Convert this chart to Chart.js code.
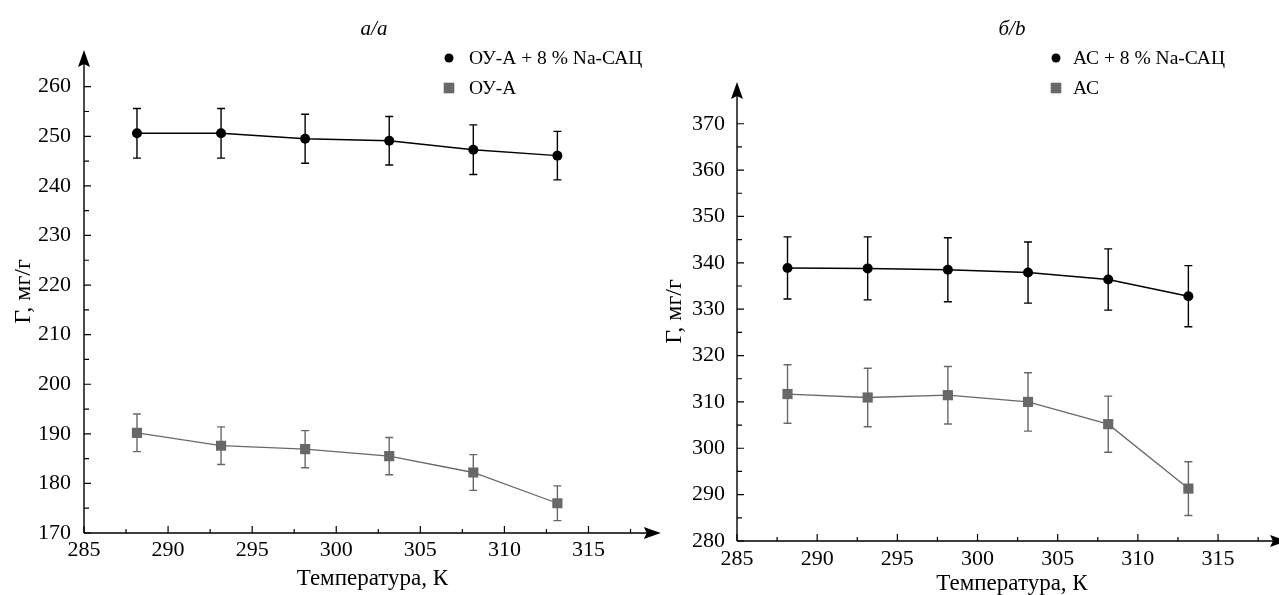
<!DOCTYPE html>
<html>
<head>
<meta charset="utf-8">
<script src="https://cdn.jsdelivr.net/npm/chart.js@4.4.1/dist/chart.umd.min.js"></script>
<style>
  html, body { margin:0; padding:0; background:#fff; overflow:hidden; width:1279px; height:595px; position:relative; }
  #wrapA { position:absolute; left:0; top:0; width:668px; height:595px; }
  #wrapB { position:absolute; left:655px; top:0; width:645px; height:595px; }
  canvas { display:block; }
</style>
</head>
<body>
<div id="wrapA"><canvas id="chartA" width="668" height="595"></canvas></div>
<div id="wrapB"><canvas id="chartB" width="645" height="595"></canvas></div>
<script>
// ---------- data ----------
const temperatures = [288.15, 293.15, 298.15, 303.15, 308.15, 313.15];

const seriesA1Label = 'ОУ-А + 8 % Na-САЦ';
const seriesA1 = [250.6, 250.6, 249.5, 249.1, 247.3, 246.1];
const seriesA1Err = [5.0, 5.0, 4.95, 4.9, 5.0, 4.9];
const seriesA2Label = 'ОУ-А';
const seriesA2 = [190.2, 187.6, 186.9, 185.5, 182.2, 176.0];
const seriesA2Err = [3.8, 3.8, 3.75, 3.75, 3.6, 3.5];

const seriesB1Label = 'АС + 8 % Na-САЦ';
const seriesB1 = [338.9, 338.8, 338.5, 337.9, 336.4, 332.8];
const seriesB1Err = [6.7, 6.8, 6.9, 6.6, 6.6, 6.6];
const seriesB2Label = 'АС';
const seriesB2 = [311.7, 310.95, 311.45, 310.0, 305.2, 291.3];
const seriesB2Err = [6.3, 6.3, 6.2, 6.3, 6.05, 5.8];

const xTicks = [285, 287.5, 290, 292.5, 295, 297.5, 300, 302.5, 305, 307.5, 310, 312.5, 315, 317.5];
const yTicksA = [170, 175, 180, 185, 190, 195, 200, 205, 210, 215, 220, 225, 230, 235, 240, 245, 250, 255, 260];
const yTicksB = [280, 285, 290, 295, 300, 305, 310, 315, 320, 325, 330, 335, 340, 345, 350, 355, 360, 365, 370];

const panelTitleA = 'a/a';
const panelTitleB = 'б/b';
const xAxisTitle = 'Температура, К';
const yAxisTitle = 'Г, мг/г';

// ---------- rendering ----------
const FONT = "'Liberation Serif', 'Times New Roman', serif";
Chart.defaults.font.family = FONT;
Chart.defaults.color = '#000';

const BLACK = '#000000';
const GREY = '#686868';

const axesPlugin = {
  id: 'sciAxes',
  beforeDatasetsDraw(chart) {
    const { ctx, scales: { x, y } } = chart;
    const x0 = x.left, x1 = x.right, y0 = y.bottom, y1 = y.top;
    ctx.save();
    ctx.strokeStyle = '#000';
    ctx.fillStyle = '#000';
    ctx.lineWidth = 1.4;
    ctx.beginPath();
    ctx.moveTo(x0, y0); ctx.lineTo(x1 - 12, y0);
    ctx.moveTo(x0, y0); ctx.lineTo(x0, y1 + 12);
    ctx.stroke();
    // arrow heads
    ctx.beginPath();
    ctx.moveTo(x1, y0); ctx.lineTo(x1 - 17, y0 - 6); ctx.lineTo(x1 - 14, y0); ctx.lineTo(x1 - 17, y0 + 6); ctx.closePath();
    ctx.fill();
    ctx.beginPath();
    ctx.moveTo(x0, y1); ctx.lineTo(x0 - 6, y1 + 17); ctx.lineTo(x0, y1 + 14); ctx.lineTo(x0 + 6, y1 + 17); ctx.closePath();
    ctx.fill();
    // inward ticks
    ctx.lineWidth = 1.2;
    ctx.beginPath();
    y.ticks.forEach(t => {
      const p = y.getPixelForValue(t.value);
      const len = (t.value % 10 === 0) ? 7 : 5;
      ctx.moveTo(x0, p); ctx.lineTo(x0 + len, p);
    });
    x.ticks.forEach(t => {
      const p = x.getPixelForValue(t.value);
      const len = (t.value % 5 === 0) ? 7 : 4;
      ctx.moveTo(p, y0); ctx.lineTo(p, y0 - len);
    });
    ctx.stroke();
    // error bars
    chart.data.datasets.forEach(ds => {
      if (!ds.errors) return;
      ctx.strokeStyle = ds.borderColor;
      ctx.lineWidth = 1.4;
      ctx.beginPath();
      ds.data.forEach((pt, j) => {
        const px = x.getPixelForValue(pt.x);
        const e = ds.errors[j];
        const yt = y.getPixelForValue(pt.y + e);
        const yb = y.getPixelForValue(pt.y - e);
        ctx.moveTo(px, yt); ctx.lineTo(px, yb);
        ctx.moveTo(px - 4, yt); ctx.lineTo(px + 4, yt);
        ctx.moveTo(px - 4, yb); ctx.lineTo(px + 4, yb);
      });
      ctx.stroke();
    });
    ctx.restore();
  }
};

const decorPlugin = {
  id: 'panelDecor',
  afterDraw(chart, args, opts) {
    const { ctx } = chart;
    ctx.save();
    ctx.fillStyle = '#000';
    ctx.font = 'italic 21px ' + FONT;
    ctx.textAlign = 'center';
    ctx.textBaseline = 'middle';
    ctx.fillText(opts.title, opts.titleX, opts.titleY);
    ctx.font = '19.5px ' + FONT;
    ctx.textAlign = 'left';
    chart.data.datasets.forEach((ds, i) => {
      const ly = opts.legendTop + i * opts.legendGap;
      ctx.fillStyle = ds.backgroundColor;
      Chart.helpers.drawPoint(ctx, { pointStyle: ds.pointStyle, radius: ds.legendRadius, borderWidth: 0, rotation: 0 }, opts.legendX, ly);
      ctx.fillStyle = '#000';
      ctx.fillText(ds.label, opts.legendTextX, ly + 1);
    });
    ctx.restore();
  }
};

function buildPanel(canvasId, p) {
  const mk = (vals) => temperatures.map((t, i) => ({ x: t, y: vals[i] }));
  return new Chart(document.getElementById(canvasId), {
    type: 'line',
    data: {
      datasets: [
        {
          label: p.s1Label, data: mk(p.s1), errors: p.s1Err,
          borderColor: BLACK, backgroundColor: BLACK, borderWidth: 1.5,
          pointStyle: 'circle', pointRadius: 5, pointBorderWidth: 0, legendRadius: 4.5,
          tension: 0, fill: false
        },
        {
          label: p.s2Label, data: mk(p.s2), errors: p.s2Err,
          borderColor: GREY, backgroundColor: GREY, borderWidth: 1.3,
          pointStyle: 'rect', pointRadius: 7.2, pointBorderWidth: 0, legendRadius: 7.5,
          tension: 0, fill: false
        }
      ]
    },
    options: {
      responsive: false,
      animation: false,
      devicePixelRatio: 1,
      layout: { padding: { left: 0, top: p.padTop, right: p.padRight, bottom: 0 } },
      plugins: {
        legend: { display: false },
        tooltip: { enabled: false },
        panelDecor: p.decor
      },
      scales: {
        x: {
          type: 'linear', min: 285, max: p.xMax,
          afterBuildTicks: s => { s.ticks = xTicks.map(v => ({ value: v })); },
          afterFit: s => { s.height = p.xScaleHeight; },
          grid: { display: false }, border: { display: false },
          ticks: {
            autoSkip: false, maxRotation: 0, padding: p.xTickPad, color: '#000',
            font: { size: 22, family: FONT },
            callback: v => (v % 5 === 0 ? String(v) : '')
          },
          title: { display: true, text: xAxisTitle, color: '#000', font: { size: 23, family: FONT, lineHeight: 1 }, padding: { top: 0, bottom: p.xTitlePad } }
        },
        y: {
          type: 'linear', min: p.yMin, max: p.yMax,
          afterBuildTicks: s => { s.ticks = p.yTicks.map(v => ({ value: v })); },
          afterFit: s => { s.width = p.yScaleWidth; },
          grid: { display: false }, border: { display: false },
          ticks: {
            autoSkip: false, padding: p.yTickPad, color: '#000',
            font: { size: 22, family: FONT },
            callback: v => (v % 10 === 0 ? String(v) : '')
          },
          title: { display: true, text: yAxisTitle, color: '#000', font: { size: 24, family: FONT, lineHeight: 1 }, padding: { top: p.yTitlePad, bottom: 0 } }
        }
      }
    },
    plugins: [axesPlugin, decorPlugin]
  });
}

buildPanel('chartA', {
  s1Label: seriesA1Label, s1: seriesA1, s1Err: seriesA1Err,
  s2Label: seriesA2Label, s2: seriesA2, s2Err: seriesA2Err,
  yTicks: yTicksA, yMin: 170, yMax: 267.4, xMax: 319.3,
  padTop: 50, padRight: 3, xScaleHeight: 62, yScaleWidth: 84,
  xTickPad: -4, yTickPad: 5, xTitlePad: 5, yTitlePad: 12,
  decor: { title: panelTitleA, titleX: 374, titleY: 29, legendX: 449, legendTextX: 469, legendTop: 58, legendGap: 30 }
});

buildPanel('chartB', {
  s1Label: seriesB1Label, s1: seriesB1, s1Err: seriesB1Err,
  s2Label: seriesB2Label, s2: seriesB2, s2Err: seriesB2Err,
  yTicks: yTicksB, yMin: 280, yMax: 379, xMax: 319.3,
  padTop: 82, padRight: 13, xScaleHeight: 54, yScaleWidth: 82,
  xTickPad: -3, yTickPad: 4, xTitlePad: 0, yTitlePad: 8,
  decor: { title: panelTitleB, titleX: 357, titleY: 29, legendX: 401, legendTextX: 418, legendTop: 58, legendGap: 30 }
});
</script>
</body>
</html>
